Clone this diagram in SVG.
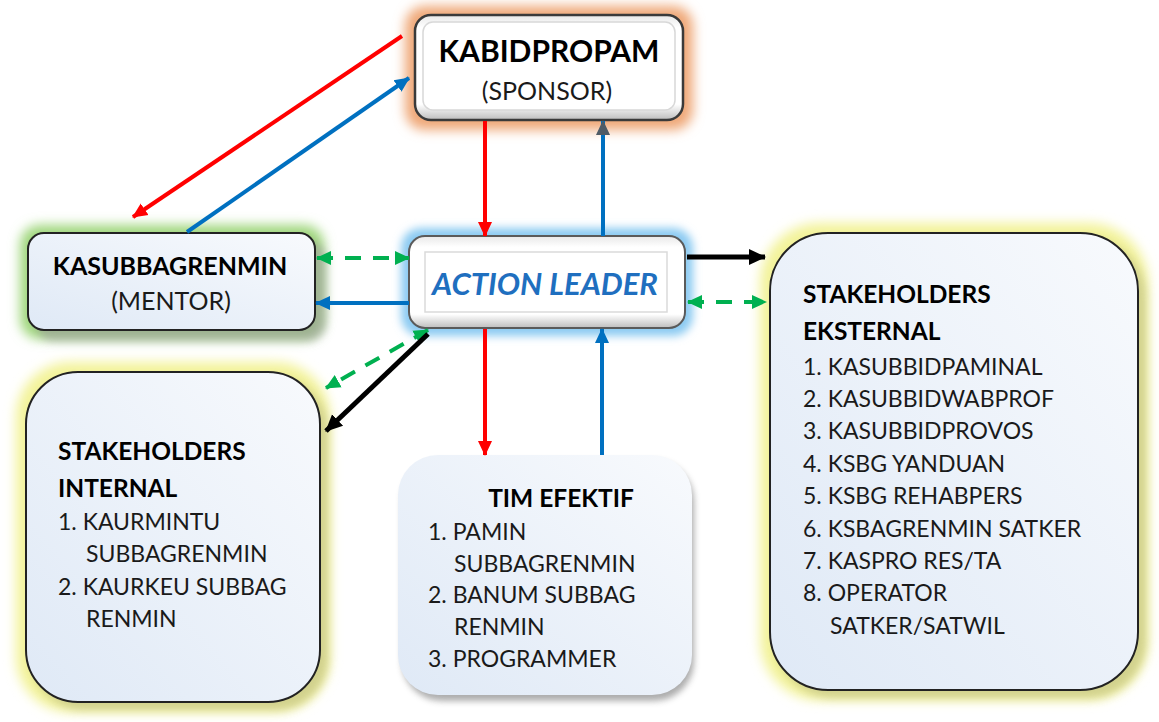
<svg xmlns="http://www.w3.org/2000/svg" width="1159" height="722" viewBox="0 0 1159 722">
<defs>
  <filter id="blur6" x="-20%" y="-20%" width="140%" height="140%"><feGaussianBlur stdDeviation="6"/></filter>
  <filter id="blur4" x="-20%" y="-20%" width="140%" height="140%"><feGaussianBlur stdDeviation="4"/></filter>
  <filter id="blur3" x="-20%" y="-20%" width="140%" height="140%"><feGaussianBlur stdDeviation="3"/></filter>
  <linearGradient id="paleBlue" x1="1" y1="0" x2="0" y2="1">
    <stop offset="0" stop-color="#F8FAFD"/>
    <stop offset="1" stop-color="#DFE9F6"/>
  </linearGradient>
  <linearGradient id="bevel" x1="0" y1="0" x2="0" y2="1">
    <stop offset="0" stop-color="#E8E8E8"/>
    <stop offset="0.12" stop-color="#FFFFFF"/>
    <stop offset="0.85" stop-color="#FFFFFF"/>
    <stop offset="1" stop-color="#BDBDBD"/>
  </linearGradient>
  <marker id="hRed" markerUnits="userSpaceOnUse" markerWidth="16" markerHeight="16" refX="14" refY="8" orient="auto"><path d="M0,1 L15,8 L0,15 Z" fill="#FF0000"/></marker>
  <marker id="hBlue" markerUnits="userSpaceOnUse" markerWidth="16" markerHeight="16" refX="14" refY="8" orient="auto"><path d="M0,1 L15,8 L0,15 Z" fill="#0070C0"/></marker>
  <marker id="hGray" markerUnits="userSpaceOnUse" markerWidth="16" markerHeight="16" refX="14" refY="8" orient="auto"><path d="M0,1 L15,8 L0,15 Z" fill="#4F5B66"/></marker>
  <marker id="hBlack" markerUnits="userSpaceOnUse" markerWidth="18" markerHeight="18" refX="16" refY="9" orient="auto"><path d="M0,1 L17,9 L0,17 Z" fill="#000000"/></marker>
  <marker id="hGreenE" markerUnits="userSpaceOnUse" markerWidth="16" markerHeight="16" refX="14" refY="8" orient="auto"><path d="M0,1 L15,8 L0,15 Z" fill="#00B050"/></marker>
  <marker id="hGreenS" markerUnits="userSpaceOnUse" markerWidth="16" markerHeight="16" refX="2" refY="8" orient="auto"><path d="M16,1 L1,8 L16,15 Z" fill="#00B050"/></marker>
</defs>
<style>
  text { font-family: Lato, "Open Sans", "Liberation Sans", sans-serif; fill: #1A1A1A; }
  .b { font-weight: bold; fill: #000; }
  .t { font-size: 23px; }
  .h { font-size: 24.5px; }
  .box { fill: url(#paleBlue); stroke: #222; stroke-width: 2; }
  .ln { fill: none; stroke-width: 4; }
  .red { stroke: #FF0000; }
  .blue { stroke: #0070C0; }
  .green { stroke: #00B050; stroke-dasharray: 16 12; }
  .black { stroke: #000; stroke-width: 5; }
</style>
<rect width="1159" height="722" fill="#FFFFFF"/>

<g id="kabidpropam">
  <rect x="405" y="6" width="288" height="124" rx="20" fill="#EFA878" filter="url(#blur6)"/>
  <rect x="415" y="15" width="268" height="105" rx="16" fill="url(#bevel)" stroke="#3A3A3A" stroke-width="2.5"/>
  <rect x="423" y="22" width="252" height="88" rx="10" fill="#FFFFFF" stroke="#D8D8D8" stroke-width="1.5"/>
  <text x="549" y="62" text-anchor="middle" class="b" font-size="30">KABIDPROPAM</text>
  <text x="547" y="100" text-anchor="middle" font-size="25">(SPONSOR)</text>
</g>

<g id="kasubbagrenmin">
  <rect x="20" y="225" width="304" height="114" rx="20" fill="#9ED67A" filter="url(#blur6)"/>
  <rect x="36" y="241" width="290" height="100" rx="18" fill="#9A9A9A" opacity="0.6" filter="url(#blur4)"/>
  <rect x="28" y="233" width="287" height="97" rx="16" class="box"/>
  <text x="170" y="275" text-anchor="middle" class="b" font-size="25">KASUBBAGRENMIN</text>
  <text x="171" y="310" text-anchor="middle" font-size="25">(MENTOR)</text>
</g>

<g id="action-leader">
  <rect x="401" y="228" width="292" height="108" rx="20" fill="#8CCBF2" filter="url(#blur4)"/>
  <rect x="409" y="236" width="276" height="92" rx="16" fill="url(#bevel)" stroke="#5A5A5A" stroke-width="2"/>
  <rect x="425" y="252" width="242" height="60" fill="#FFFFFF" stroke="#DADADA" stroke-width="1.5"/>
  <text x="545" y="295" text-anchor="middle" font-size="31" font-weight="bold" font-style="italic" style="fill:#1F6FBF">ACTION LEADER</text>
</g>

<g id="stakeholders-internal">
  <rect x="16" y="362" width="314" height="350" rx="55" fill="#F3F39A" filter="url(#blur6)"/>
  <rect x="32" y="378" width="296" height="332" rx="52" fill="#C9C98A" opacity="0.8" filter="url(#blur4)"/>
  <rect x="26" y="372" width="294" height="330" rx="52" class="box"/>
  <text x="58" y="460" class="b h">STAKEHOLDERS</text>
  <text x="58" y="497" class="b h">INTERNAL</text>
  <text x="58" y="530" class="t">1. KAURMINTU</text>
  <text x="86" y="562" class="t">SUBBAGRENMIN</text>
  <text x="58" y="595" class="t">2. KAURKEU SUBBAG</text>
  <text x="86" y="627" class="t">RENMIN</text>
</g>

<g id="tim-efektif">
  <rect x="402" y="461" width="292" height="240" rx="40" fill="#8A8A8A" opacity="0.7" filter="url(#blur3)"/>
  <rect x="398" y="455" width="294" height="240" rx="40" fill="url(#paleBlue)"/>
  <text x="561" y="507" text-anchor="middle" class="b h">TIM EFEKTIF</text>
  <text x="428" y="540" class="t">1. PAMIN</text>
  <text x="454" y="572" class="t">SUBBAGRENMIN</text>
  <text x="428" y="603" class="t">2. BANUM SUBBAG</text>
  <text x="454" y="635" class="t">RENMIN</text>
  <text x="428" y="667" class="t">3. PROGRAMMER</text>
</g>

<g id="stakeholders-eksternal">
  <rect x="760" y="223" width="388" height="477" rx="60" fill="#F3F39A" filter="url(#blur6)"/>
  <rect x="776" y="239" width="370" height="459" rx="58" fill="#C9C98A" opacity="0.8" filter="url(#blur4)"/>
  <rect x="770" y="233" width="368" height="457" rx="58" class="box"/>
  <text x="803" y="303" class="b h">STAKEHOLDERS</text>
  <text x="803" y="340" class="b h">EKSTERNAL</text>
  <text x="803" y="375" class="t">1. KASUBBIDPAMINAL</text>
  <text x="803" y="407" class="t">2. KASUBBIDWABPROF</text>
  <text x="803" y="439" class="t">3. KASUBBIDPROVOS</text>
  <text x="803" y="472" class="t">4. KSBG YANDUAN</text>
  <text x="803" y="504" class="t">5. KSBG REHABPERS</text>
  <text x="803" y="537" class="t">6. KSBAGRENMIN SATKER</text>
  <text x="803" y="569" class="t">7. KASPRO RES/TA</text>
  <text x="803" y="601" class="t">8. OPERATOR</text>
  <text x="830" y="634" class="t">SATKER/SATWIL</text>
</g>

<g id="connectors">
  <line x1="402" y1="36" x2="133" y2="217" class="ln red" marker-end="url(#hRed)"/>
  <line x1="187" y1="232" x2="409" y2="78" class="ln blue" marker-end="url(#hBlue)"/>
  <line x1="485" y1="121" x2="485" y2="236" class="ln red" marker-end="url(#hRed)"/>
  <line x1="603" y1="236" x2="603" y2="121" class="ln blue" marker-end="url(#hGray)"/>
  <line x1="317" y1="258" x2="409" y2="258" class="ln green" marker-start="url(#hGreenS)" marker-end="url(#hGreenE)"/>
  <line x1="409" y1="303" x2="316" y2="303" class="ln blue" marker-end="url(#hBlue)"/>
  <line x1="687" y1="257" x2="765" y2="257" class="ln black" marker-end="url(#hBlack)"/>
  <line x1="688" y1="302" x2="766" y2="302" class="ln green" marker-start="url(#hGreenS)" marker-end="url(#hGreenE)"/>
  <line x1="428" y1="330" x2="326" y2="388" class="ln green" marker-start="url(#hGreenS)" marker-end="url(#hGreenE)"/>
  <line x1="428" y1="334" x2="326" y2="431" class="ln black" marker-end="url(#hBlack)"/>
  <line x1="485" y1="329" x2="485" y2="455" class="ln red" marker-end="url(#hRed)"/>
  <line x1="602" y1="455" x2="602" y2="329" class="ln blue" marker-end="url(#hBlue)"/>
</g>
</svg>
